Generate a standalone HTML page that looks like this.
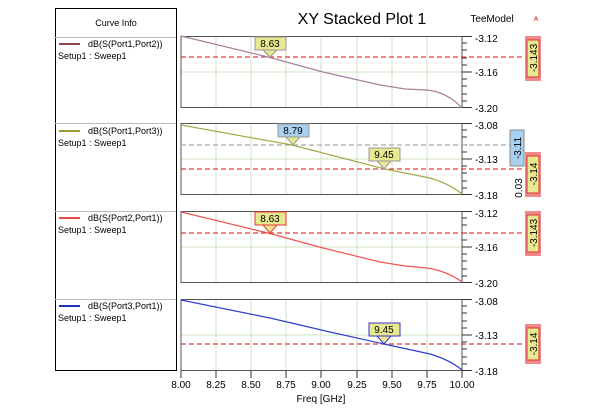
<!DOCTYPE html>
<html><head><style>body{margin:0;background:#fff}svg{display:block;font-family:"Liberation Sans",sans-serif}</style></head><body>
<svg width="600" height="412" viewBox="0 0 600 412">
<rect width="600" height="412" fill="#fff"/>
<!-- legend box -->
<rect x="55.5" y="8.5" width="121" height="362" fill="#fff" stroke="#000"/>
<line x1="55" y1="37.5" x2="176" y2="37.5" stroke="#bbb"/>
<line x1="55" y1="123.5" x2="176" y2="123.5" stroke="#bbb"/>
<line x1="55" y1="211.5" x2="176" y2="211.5" stroke="#bbb"/>
<line x1="55" y1="299.5" x2="176" y2="299.5" stroke="#bbb"/>
<text x="116" y="26" font-size="9" text-anchor="middle">Curve Info</text>
<g font-size="9">
<line x1="59" y1="44" x2="80" y2="44" stroke="#8b4a4a" stroke-width="2"/><text x="88" y="47">dB(S(Port1,Port2))</text><text x="58" y="59">Setup1 : Sweep1</text>
<line x1="59" y1="131" x2="80" y2="131" stroke="#9a9a30" stroke-width="2"/><text x="88" y="134">dB(S(Port1,Port3))</text><text x="58" y="146">Setup1 : Sweep1</text>
<line x1="59" y1="218" x2="80" y2="218" stroke="#e84a4a" stroke-width="2"/><text x="88" y="221">dB(S(Port2,Port1))</text><text x="58" y="233">Setup1 : Sweep1</text>
<line x1="59" y1="306" x2="80" y2="306" stroke="#2233bb" stroke-width="2"/><text x="88" y="309">dB(S(Port3,Port1))</text><text x="58" y="321">Setup1 : Sweep1</text>
</g>
<text x="362" y="24" font-size="16" text-anchor="middle">XY Stacked Plot 1</text>
<text x="492" y="22" font-size="10" text-anchor="middle">TeeModel</text>
<text x="536" y="21" font-size="9" fill="#c33" text-anchor="middle">⩚</text>

<defs>
<g id="grid">
<g stroke="#cfe3c0" stroke-width="1">
<line x1="216" y1="0" x2="216" y2="72"/><line x1="251" y1="0" x2="251" y2="72"/><line x1="286" y1="0" x2="286" y2="72"/><line x1="321" y1="0" x2="321" y2="72"/><line x1="357" y1="0" x2="357" y2="72"/><line x1="392" y1="0" x2="392" y2="72"/><line x1="427" y1="0" x2="427" y2="72"/>
<line x1="181" y1="36" x2="462" y2="36"/>
</g>
<rect x="181" y="0.5" width="281" height="71" fill="none" stroke="#555"/>
<g stroke="#333">
<line x1="462" y1="0.5" x2="472" y2="0.5"/><line x1="462" y1="36" x2="472" y2="36"/><line x1="462" y1="71.5" x2="472" y2="71.5"/>
<line x1="462" y1="7" x2="467" y2="7"/><line x1="462" y1="14" x2="467" y2="14"/><line x1="462" y1="22" x2="467" y2="22"/><line x1="462" y1="29" x2="467" y2="29"/><line x1="462" y1="43" x2="467" y2="43"/><line x1="462" y1="50" x2="467" y2="50"/><line x1="462" y1="58" x2="467" y2="58"/><line x1="462" y1="65" x2="467" y2="65"/>
</g>
</g>
</defs>
<g font-size="10">
<use href="#grid" transform="translate(0,36)"/>
<text x="475" y="42">-3.12</text><text x="475" y="76">-3.16</text><text x="475" y="112">-3.20</text>
<use href="#grid" transform="translate(0,123)"/>
<text x="475" y="129">-3.08</text><text x="475" y="163">-3.13</text><text x="475" y="199">-3.18</text>
<use href="#grid" transform="translate(0,211)"/>
<text x="475" y="217">-3.12</text><text x="475" y="251">-3.16</text><text x="475" y="287">-3.20</text>
<use href="#grid" transform="translate(0,299)"/>
<text x="475" y="305">-3.08</text><text x="475" y="339">-3.13</text><text x="475" y="375">-3.18</text>
</g>
<!-- x ticks -->
<g stroke="#333"><line x1="181" y1="371" x2="181" y2="378"/><line x1="216" y1="371" x2="216" y2="378"/><line x1="251" y1="371" x2="251" y2="378"/><line x1="286" y1="371" x2="286" y2="378"/><line x1="321" y1="371" x2="321" y2="378"/><line x1="357" y1="371" x2="357" y2="378"/><line x1="392" y1="371" x2="392" y2="378"/><line x1="427" y1="371" x2="427" y2="378"/><line x1="462" y1="371" x2="462" y2="378"/></g>
<g font-size="10" text-anchor="middle">
<text x="181" y="388">8.00</text><text x="216" y="388">8.25</text><text x="251" y="388">8.50</text><text x="286" y="388">8.75</text><text x="321" y="388">9.00</text><text x="357" y="388">9.25</text><text x="392" y="388">9.50</text><text x="427" y="388">9.75</text><text x="462" y="388">10.00</text>
<text x="321" y="402">Freq [GHz]</text>
</g>
<!-- marker lines -->
<g stroke-dasharray="5,3" stroke-width="1.2">
<line x1="181" y1="57" x2="526" y2="57" stroke="#e63a3a"/>
<line x1="181" y1="145" x2="514" y2="145" stroke="#aaa"/>
<line x1="181" y1="169" x2="526" y2="169" stroke="#e63a3a"/>
<line x1="181" y1="233" x2="526" y2="233" stroke="#e63a3a"/>
<line x1="181" y1="344" x2="526" y2="344" stroke="#e63a3a"/>
</g>
<!-- curves -->
<g fill="none" stroke-width="1.2">
<path d="M181,36 L268,57 L323,72 L380,85 L405,89 L427,90 Q447,92 462,108" stroke="#a8809a"/>
<path d="M181,125 L292,145 L385,169 L430,178 Q448,183 462,194" stroke="#a8a84a"/>
<path d="M181,212 L268,233 L323,248 L380,262 L405,266 L427,268 Q447,271 462,282" stroke="#ee5555"/>
<path d="M181,300 L270,318 L330,332 L384,344 L430,354 Q450,360 462,370" stroke="#2f3fcc"/>
</g>
<!-- callouts -->
<g font-size="10" text-anchor="middle">
<rect x="255" y="37" width="31" height="13" fill="#e8e890" stroke="#999"/><path d="M263,50 L277,50 L270,57Z" fill="#e8e890" stroke="#999"/><text x="270" y="47">8.63</text>
<rect x="278" y="124" width="31" height="13" fill="#a8d0f0" stroke="#999"/><path d="M286,137 L300,137 L293,145Z" fill="#e8e890" stroke="#999"/><text x="293" y="134">8.79</text>
<rect x="369" y="148" width="31" height="13" fill="#e8e890" stroke="#999"/><path d="M377,161 L391,161 L384,169Z" fill="#e8e890" stroke="#999"/><text x="384" y="158">9.45</text>
<rect x="255" y="212" width="31" height="13" fill="#e8e890" stroke="#e33"/><path d="M263,225 L277,225 L270,233Z" fill="#e8e890" stroke="#e33"/><text x="270" y="222">8.63</text>
<rect x="369" y="323" width="31" height="13" fill="#e8e890" stroke="#33c"/><path d="M377,336 L391,336 L384,344Z" fill="#e8e890" stroke="#33c"/><text x="384" y="333">9.45</text>
</g>
<!-- right value boxes -->
<g font-size="10" text-anchor="middle">
<rect x="525" y="36" width="16" height="45" fill="#f08a8a"/><rect x="527" y="40" width="12" height="37" fill="#e8e890" stroke="#d33"/><text transform="translate(537,58) rotate(-90)">-3.143</text>
<rect x="510" y="130" width="14" height="36" fill="#a8d0f0" stroke="#888"/><text transform="translate(521,148) rotate(-90)">-3.11</text>
<text transform="translate(522,188) rotate(-90)">0.03</text>
<rect x="525" y="152" width="16" height="45" fill="#f08a8a"/><rect x="527" y="156" width="12" height="37" fill="#e8e890" stroke="#d33"/><text transform="translate(537,174) rotate(-90)">-3.14</text>
<rect x="525" y="211" width="16" height="45" fill="#f08a8a"/><rect x="527" y="215" width="12" height="37" fill="#e8e890" stroke="#d33"/><text transform="translate(537,233) rotate(-90)">-3.143</text>
<rect x="525" y="324" width="16" height="40" fill="#f08a8a"/><rect x="527" y="328" width="12" height="32" fill="#e8e890" stroke="#d33"/><text transform="translate(537,344) rotate(-90)">-3.14</text>
</g>
</svg>
</body></html>
